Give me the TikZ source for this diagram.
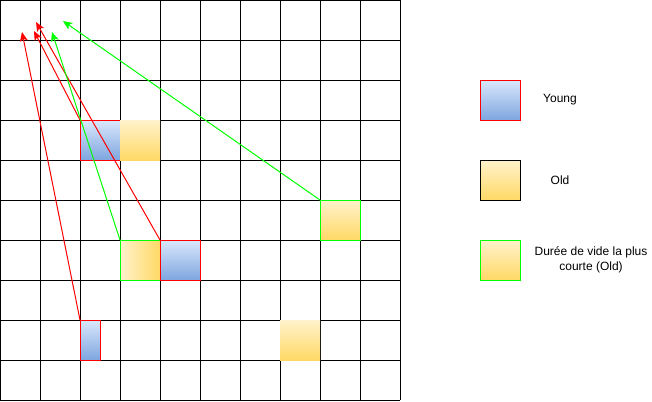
\documentclass[tikz,border=0pt]{standalone}
\usepackage{fontspec}
\setmainfont{Liberation Sans}
\usetikzlibrary{arrows.meta}
\definecolor{yTop}{HTML}{DAE8FC}
\definecolor{yBot}{HTML}{7EA6E0}
\definecolor{oTop}{HTML}{FFF2CC}
\definecolor{oBot}{HTML}{FFD966}
\definecolor{gEdge}{HTML}{00FF00}
\definecolor{rEdge}{HTML}{FF0000}
\tikzset{
  cell/.style={rectangle, inner sep=0pt, outer sep=0pt, anchor=north west, minimum width=30pt, minimum height=30pt, line width=0.75pt},
  young/.style={cell, top color=yTop, bottom color=yBot, draw=rEdge},
  old/.style={cell, top color=oTop, bottom color=oBot},
  oldg/.style={old, draw=gEdge},
  oldh/.style={cell, left color=oTop, right color=oBot, draw=gEdge},
  gridline/.style={line width=0.75pt, black},
  rarrow/.style={line width=0.75pt, rEdge, -{Stealth[length=7pt,width=6pt,inset=1.8pt]}},
  garrow/.style={line width=0.75pt, gEdge, -{Stealth[length=7pt,width=6pt,inset=1.8pt]}},
  lbl/.style={font=\fontsize{9}{11.6}\selectfont, align=center, inner sep=0pt}
}
\begin{document}
\begin{tikzpicture}[x=0.75pt, y=-0.75pt]
\useasboundingbox (0,0) rectangle (652,401);
% grid
\foreach \i in {0,...,10} {
  \draw[gridline] (\i*40,0) -- (\i*40,400);
  \draw[gridline] (0,\i*40) -- (400,\i*40);
}
% boxes
\node[young] (y1) at (80,120) {};
\node[old] (o1) at (120,120) {};
\node[oldh] (g1) at (120,240) {};
\node[young] (y2) at (160,240) {};
\node[oldg] (g2) at (320,200) {};
\node[young, minimum width=15pt] (y3) at (80,320) {};
\node[old] (o2) at (280,320) {};
% arrow tips
\coordinate (t1) at (22,32);
\coordinate (t2) at (34,31);
\coordinate (t3) at (36,22);
\coordinate (t4) at (52,32);
\coordinate (t5) at (63,21);
\draw[rarrow] (y3.north west) -- (t1);
\draw[rarrow] (y1.north west) -- (t2);
\draw[rarrow] (y2.north west) -- (t3);
\draw[garrow] (g1.north west) -- (t4);
\draw[garrow] (g2.north west) -- (t5);
% legend
\node[young] (ly) at (480,80) {};
\node[old, draw=black] (lo) at (480,160) {};
\node[oldg] (lg) at (480,240) {};
\node[lbl] (tly) at (560,100) {Young};
\node[lbl] (tlo) at (560,180) {Old};
\node[lbl] (tlg) at (591,260) {Durée de vide la plus\\courte (Old)};
\end{tikzpicture}
\end{document}
